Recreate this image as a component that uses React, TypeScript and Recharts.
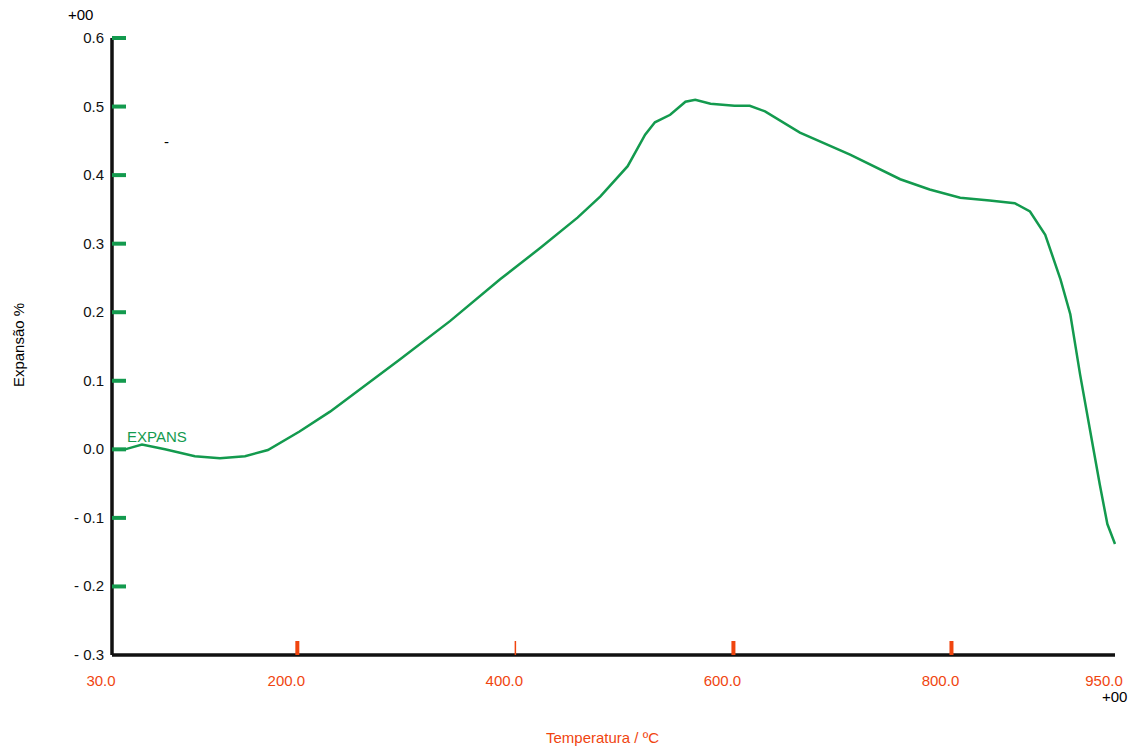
import React from 'react';
import { LineChart, Line, XAxis, YAxis } from 'recharts';

const temps = [30, 42, 57.5, 78.6, 106, 129, 152, 173, 202, 230, 294, 340, 386, 423, 457, 478, 503, 519, 528, 542, 556, 565, 579, 601, 615, 629, 661, 707, 753, 780, 808, 835, 858, 872, 886, 900, 909, 918, 927, 936, 943, 950];
const expans = [0.0, 0.0, 0.007, 0.0, -0.01, -0.013, -0.01, -0.001, 0.026, 0.055, 0.131, 0.187, 0.248, 0.294, 0.338, 0.369, 0.413, 0.459, 0.477, 0.488, 0.507, 0.51, 0.504, 0.501, 0.501, 0.493, 0.462, 0.43, 0.394, 0.379, 0.367, 0.363, 0.359, 0.347, 0.313, 0.248, 0.197, 0.109, 0.029, -0.051, -0.109, -0.138];
const xTicks = [30, 200, 400, 600, 800, 950];
const yTicks = [-0.3, -0.2, -0.1, 0, 0.1, 0.2, 0.3, 0.4, 0.5, 0.6];

const data = temps.map((t, i) => ({ t, v: expans[i] }));

const GREEN = '#139a4e';
const ORANGE = '#f0450f';
const FONT = '"Liberation Sans", Arial, sans-serif';

function YTick(props: any) {
  const { x, y, payload } = props;
  const v = payload.value as number;
  const lbl = v < 0 ? '- ' + Math.abs(v).toFixed(1) : v.toFixed(1);
  return (
    <g>
      {v > -0.3 && <line x1={x} x2={x + 14} y1={y} y2={y} stroke={GREEN} strokeWidth={4} />}
      <text x={x - 8} y={y + 5} textAnchor="end" fontSize={15} fill="#111" fontFamily={FONT}>{lbl}</text>
    </g>
  );
}

function XTick(props: any) {
  const { x, y, payload } = props;
  const v = payload.value as number;
  const inner = v !== 30 && v !== 950;
  return (
    <g>
      {inner && <rect x={x - (v === 400 ? 0.75 : 2)} y={y - 14} width={v === 400 ? 1.5 : 4} height={14} fill={ORANGE} />}
      <text x={x - 11} y={y + 31} textAnchor="middle" fontSize={15} fill={ORANGE} fontFamily={FONT}>{v.toFixed(1)}</text>
    </g>
  );
}

export default function App() {
  return (
    <div style={{ position: 'absolute', left: 0, top: 0, width: 1139, height: 751, background: '#fff', fontFamily: FONT }}>
      <LineChart width={1139} height={751} data={data} margin={{ top: 38, right: 24, left: 111, bottom: 95 }}>
        <XAxis dataKey="t" type="number" domain={[30, 950]} ticks={xTicks} tick={<XTick />} tickSize={0} tickMargin={0} height={1} axisLine={{ stroke: '#111', strokeWidth: 3.5 }} />
        <YAxis type="number" domain={[-0.3, 0.6]} ticks={yTicks} tick={<YTick />} tickSize={0} tickMargin={0} width={1} axisLine={{ stroke: '#111', strokeWidth: 3.5 }} />
        <Line dataKey="v" type="linear" stroke={GREEN} strokeWidth={2.5} dot={false} isAnimationActive={false} />
      </LineChart>
      <div style={{ position: 'absolute', left: 68, top: 6, fontSize: 15 }}>+00</div>
      <div style={{ position: 'absolute', left: 1102, top: 688, fontSize: 15 }}>+00</div>
      <div style={{ position: 'absolute', left: 164, top: 133, fontSize: 15 }}>-</div>
      <div style={{ position: 'absolute', left: 127, top: 428, fontSize: 15, color: GREEN }}>EXPANS</div>
      <div style={{ position: 'absolute', left: 546, top: 729, fontSize: 15, color: ORANGE }}>Temperatura / ºC</div>
      <div style={{ position: 'absolute', left: 18, top: 345, fontSize: 15, transform: 'translate(-50%, -50%) rotate(-90deg)', whiteSpace: 'nowrap' }}>Expansão %</div>
    </div>
  );
}
